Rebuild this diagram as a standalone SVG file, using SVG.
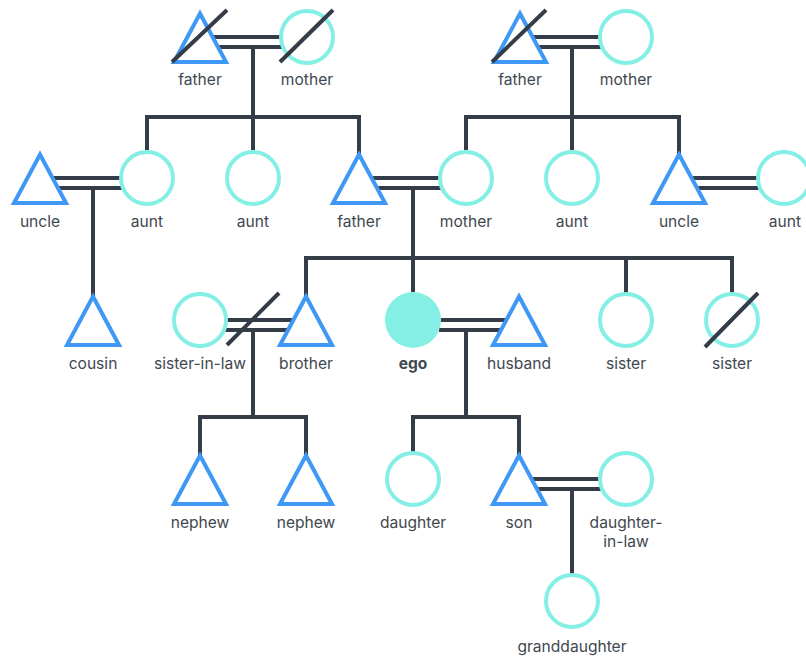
<svg xmlns="http://www.w3.org/2000/svg" width="806" height="657" viewBox="0 0 806 657">
<defs>
<style>
.m{fill:none;stroke:#3f97f6;stroke-width:4;stroke-linejoin:miter}
.f{fill:none;stroke:#84efe4;stroke-width:4}
.ego{fill:#84efe4;stroke:none}
.ln{fill:none;stroke:#343d47;stroke-width:4;stroke-linejoin:miter;stroke-linecap:butt}
.sl{stroke:#343d47;stroke-width:4;stroke-linecap:butt}
text{font-family:Inter,"Liberation Sans",sans-serif;font-size:15.6px;fill:#41484f;text-anchor:middle}
.b{font-weight:700}
</style>
<path id="tri" d="M0,-23.5 L26,25 L-26,25 Z"/>
</defs>
<rect width="806" height="657" fill="#ffffff"/>
<g id="connectors">
<path class="ln" d="M213,37 H281 M218,47 H283"/>
<path class="ln" d="M253,47 V150 M147,150 V117 H359 V154"/>
<path class="ln" d="M533,37 H600 M538,47 H602"/>
<path class="ln" d="M572,47 V150 M466,150 V117 H679 V154"/>
<path class="ln" d="M53,178 H121 M58,188 H123"/>
<path class="ln" d="M93,188 V296"/>
<path class="ln" d="M372,178 H440 M377,188 H442"/>
<path class="ln" d="M413,188 V292 M306,296 V258 H732 V294 M626,258 V294"/>
<path class="ln" d="M692,178 H758 M697,188 H760"/>
<path class="ln" d="M226,320 H293 M224,330 H288"/>
<line class="sl" x1="227" y1="345" x2="279" y2="293"/>
<path class="ln" d="M253,330 V417 M200,455 V417 H306 V455"/>
<path class="ln" d="M441,320 H506 M439,330 H501"/>
<path class="ln" d="M466,330 V417 M413,453 V417 H519 V455"/>
<path class="ln" d="M532,479 H600 M537,489 H602"/>
<path class="ln" d="M572,489 V575"/>
</g>
<g id="gf1"><use href="#tri" class="m" x="200" y="37"/><line class="sl" x1="172" y1="62" x2="227" y2="10"/><text x="200" y="85">father</text></g>
<g id="gm1"><circle class="f" cx="307" cy="37" r="26"/><line class="sl" x1="280" y1="62" x2="333" y2="10"/><text x="307" y="85">mother</text></g>
<g id="gf2"><use href="#tri" class="m" x="520" y="37"/><line class="sl" x1="492" y1="62" x2="546" y2="10"/><text x="520" y="85">father</text></g>
<g id="gm2"><circle class="f" cx="626" cy="37" r="26"/><text x="626" y="85">mother</text></g>
<g id="uncle1"><use href="#tri" class="m" x="40" y="178"/><text x="40" y="227">uncle</text></g>
<g id="aunt1"><circle class="f" cx="147" cy="178" r="26"/><text x="147" y="227">aunt</text></g>
<g id="aunt2"><circle class="f" cx="253" cy="178" r="26"/><text x="253" y="227">aunt</text></g>
<g id="father"><use href="#tri" class="m" x="359" y="178"/><text x="359" y="227">father</text></g>
<g id="mother"><circle class="f" cx="466" cy="178" r="26"/><text x="466" y="227">mother</text></g>
<g id="aunt3"><circle class="f" cx="572" cy="178" r="26"/><text x="572" y="227">aunt</text></g>
<g id="uncle2"><use href="#tri" class="m" x="679" y="178"/><text x="679" y="227">uncle</text></g>
<g id="aunt4"><circle class="f" cx="784" cy="178" r="26"/><text x="785" y="227">aunt</text></g>
<g id="cousin"><use href="#tri" class="m" x="93" y="320"/><text x="93" y="369">cousin</text></g>
<g id="sisterinlaw"><circle class="f" cx="200" cy="320" r="26"/><text x="200" y="369">sister-in-law</text></g>
<g id="brother"><use href="#tri" class="m" x="306" y="320"/><text x="306" y="369">brother</text></g>
<g id="ego"><circle class="ego" cx="413" cy="320" r="28"/><text class="b" x="413" y="369">ego</text></g>
<g id="husband"><use href="#tri" class="m" x="519" y="320"/><text x="519" y="369">husband</text></g>
<g id="sister1"><circle class="f" cx="626" cy="320" r="26"/><text x="626" y="369">sister</text></g>
<g id="sister2"><circle class="f" cx="732" cy="320" r="26"/><line class="sl" x1="705" y1="347" x2="758" y2="293"/><text x="732" y="369">sister</text></g>
<g id="nephew1"><use href="#tri" class="m" x="200" y="479"/><text x="200" y="528">nephew</text></g>
<g id="nephew2"><use href="#tri" class="m" x="306" y="479"/><text x="306" y="528">nephew</text></g>
<g id="daughter"><circle class="f" cx="413" cy="479" r="26"/><text x="413" y="528">daughter</text></g>
<g id="son"><use href="#tri" class="m" x="519" y="479"/><text x="519" y="528">son</text></g>
<g id="daughterinlaw"><circle class="f" cx="626" cy="479" r="26"/><text x="626" y="528">daughter-</text><text x="626" y="547">in-law</text></g>
<g id="granddaughter"><circle class="f" cx="572" cy="601" r="26"/><text x="572" y="652">granddaughter</text></g>
</svg>
